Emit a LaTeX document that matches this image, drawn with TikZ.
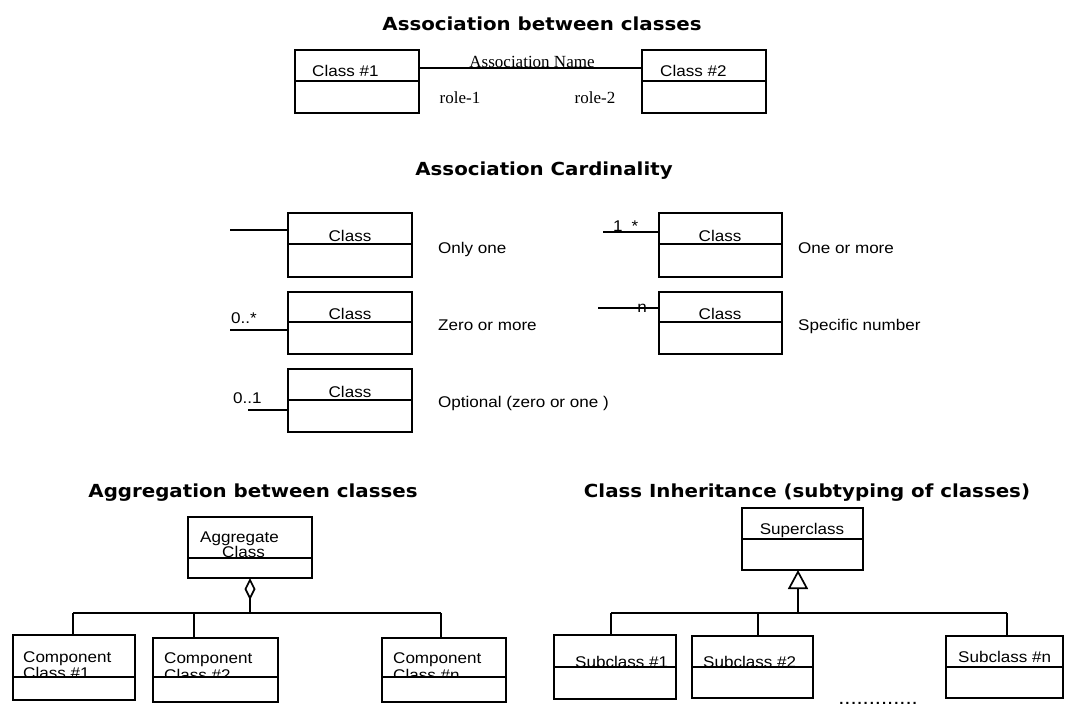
\documentclass[tikz,border=0pt]{standalone}
\usepackage{fontspec}
\usetikzlibrary{arrows.meta,calc}
\newfontfamily\titlefont{DejaVu Sans}[FakeStretch=1.1]
\newfontfamily\uifont{Liberation Sans}[FakeStretch=1.1]
\newfontfamily\seriffont{Liberation Serif}

\tikzset{
  heading/.style={font=\titlefont\bfseries\fontsize{18}{20}\selectfont, anchor=base, inner sep=0},
  txt/.style={font=\uifont\fontsize{15.5}{17}\selectfont, anchor=base west, inner sep=0},
  ctxt/.style={txt, anchor=base},
  serifl/.style={font=\seriffont\fontsize{17}{19}\selectfont, anchor=base, inner sep=0},
  link/.style={line width=1.7pt},
  % class box: outline, name compartment on top, blank compartment below
  classbox/.style={draw, line width=1.9pt, inner sep=0, outer sep=0, anchor=north west,
    path picture={
      \fill[white] ([yshift=-#1]path picture bounding box.north west)
        rectangle (path picture bounding box.south east);
      \draw[line width=1.9pt] ([yshift=-#1]path picture bounding box.north west)
        -- ([yshift=-#1]path picture bounding box.north east);
    }},
}

\begin{document}
\begin{tikzpicture}[x=1pt,y=-1pt]
\useasboundingbox (0,0) rectangle (1070,709);

% ---------- headings ----------
\node[heading] (h1) at (542,31)  {Association between classes};
\node[heading] (h2) at (544,175) {Association Cardinality};
\node[heading] (h3) at (253,497) {Aggregation between classes};
\node[heading] (h4) at (807,497) {Class Inheritance (subtyping of classes)};

% ---------- association ----------
\node[txt] (t1) at (312,77) {Class \#1};
\node[txt] (t2) at (660,77) {Class \#2};
\node[classbox=31pt, minimum width=124pt, minimum height=63pt] (A1) at (295,50) {};
\node[classbox=31pt, minimum width=124pt, minimum height=63pt] (A2) at (642,50) {};
\draw[link] ($(A1.north east)+(0,18)$) -- ($(A2.north west)+(0,18)$);
\node[serifl] (an) at (532,67) {Association Name};
\node[serifl] (r1) at (460,103) {role-1};
\node[serifl] (r2) at (595,103) {role-2};

% ---------- cardinality ----------
\node[ctxt] (ct1) at (350,241) {Class};
\node[ctxt] (ct2) at (350,319) {Class};
\node[ctxt] (ct3) at (350,397) {Class};
\node[ctxt] (ct4) at (720,241) {Class};
\node[ctxt] (ct5) at (720,319) {Class};
\node[classbox=31pt, minimum width=124pt, minimum height=64pt] (C1) at (288,213) {};
\node[classbox=30pt, minimum width=124pt, minimum height=62pt] (C2) at (288,292) {};
\node[classbox=31pt, minimum width=124pt, minimum height=63pt] (C3) at (288,369) {};
\node[classbox=31pt, minimum width=123pt, minimum height=64pt] (C4) at (659,213) {};
\node[classbox=30pt, minimum width=123pt, minimum height=62pt] (C5) at (659,292) {};

\coordinate (e1) at (230,230);
\coordinate (e2) at (230,330);
\coordinate (e3) at (248,410);
\coordinate (e4) at (603,232);
\coordinate (e5) at (598,308);
\draw[link] (e1) -- (e1 -| C1.west);
\draw[link] (e2) -- (e2 -| C2.west);
\draw[link] (e3) -- (e3 -| C3.west);
\draw[link] (e4) -- (e4 -| C4.west);
\draw[link] (e5) -- (e5 -| C5.west);

\node[txt] (m2) at (231,323) {0..*};
\node[txt] (m3) at (233,403) {0..1};
\node[txt] (m4) at (613,231) {1\hspace{9pt}*};
\node[ctxt] (m5) at (642,312) {n};

\node[txt] (d1) at (438,253) {Only one};
\node[txt] (d2) at (438,330) {Zero or more};
\node[txt] (d3) at (438,407) {Optional (zero or one )};
\node[txt] (d4) at (798,253) {One or more};
\node[txt] (d5) at (798,330) {Specific number};

% ---------- aggregation ----------
\node[txt] (ag1) at (200,542) {Aggregate};
\node[txt] (ag2) at (222,557) {Class};
\node[txt] (k1a) at (23,662) {Component};
\node[txt] (k1b) at (23,678) {Class \#1};
\node[txt] (k2a) at (164,663) {Component};
\node[txt] (k2b) at (164,680) {Class \#2};
\node[txt] (k3a) at (393,663) {Component};
\node[txt] (k3b) at (393,680) {Class \#n};
\node[classbox=41pt, minimum width=124pt, minimum height=61pt] (Agg) at (188,517) {};
\node[classbox=42pt, minimum width=122pt, minimum height=65pt] (K1) at (13,635) {};
\node[classbox=39pt, minimum width=125pt, minimum height=64pt] (K2) at (153,638) {};
\node[classbox=39pt, minimum width=124pt, minimum height=64pt] (K3) at (382,638) {};

\coordinate (aggbus) at (250,613);
\coordinate (ka) at (73,613);
\coordinate (kb) at (194,613);
\coordinate (kc) at (441,613);
\draw[link, -{Diamond[open, length=22pt, width=11pt]}] (aggbus) -- (Agg.south);
\draw[link] (ka) -- (kc);
\draw[link] (ka) -- (ka |- K1.north);
\draw[link] (kb) -- (kb |- K2.north);
\draw[link] (kc) -- (kc |- K3.north);

% ---------- inheritance ----------
\node[ctxt] (sp) at (802,534) {Superclass};
\node[txt] (s1) at (575,667) {Subclass \#1};
\node[txt] (s2) at (703,667) {Subclass \#2};
\node[txt] (s3) at (958,662) {Subclass \#n};
\node[classbox=31pt, minimum width=121pt, minimum height=62pt] (Sup) at (742,508) {};
\node[classbox=32pt, minimum width=122pt, minimum height=64pt] (S1) at (554,635) {};
\node[classbox=31pt, minimum width=121pt, minimum height=62pt] (S2) at (692,636) {};
\node[classbox=31pt, minimum width=117pt, minimum height=62pt] (S3) at (946,636) {};

\coordinate (inhbus) at (798,613);
\coordinate (sa) at (611,613);
\coordinate (sb) at (758,613);
\coordinate (sc) at (1007,613);
\draw[link, -{Triangle[open, length=19pt, width=20pt]}] (inhbus) -- (inhbus |- Sup.south);
\draw[link] (sa) -- (sc);
\draw[link] (sa) -- (sa |- S1.north);
\draw[link] (sb) -- (sb |- S2.north);
\draw[link] (sc) -- (sc |- S3.north);

\node[font=\uifont\fontsize{20}{22}\selectfont, anchor=base, inner sep=0] (dots) at (878,704) {.............};
\end{tikzpicture}
\end{document}
